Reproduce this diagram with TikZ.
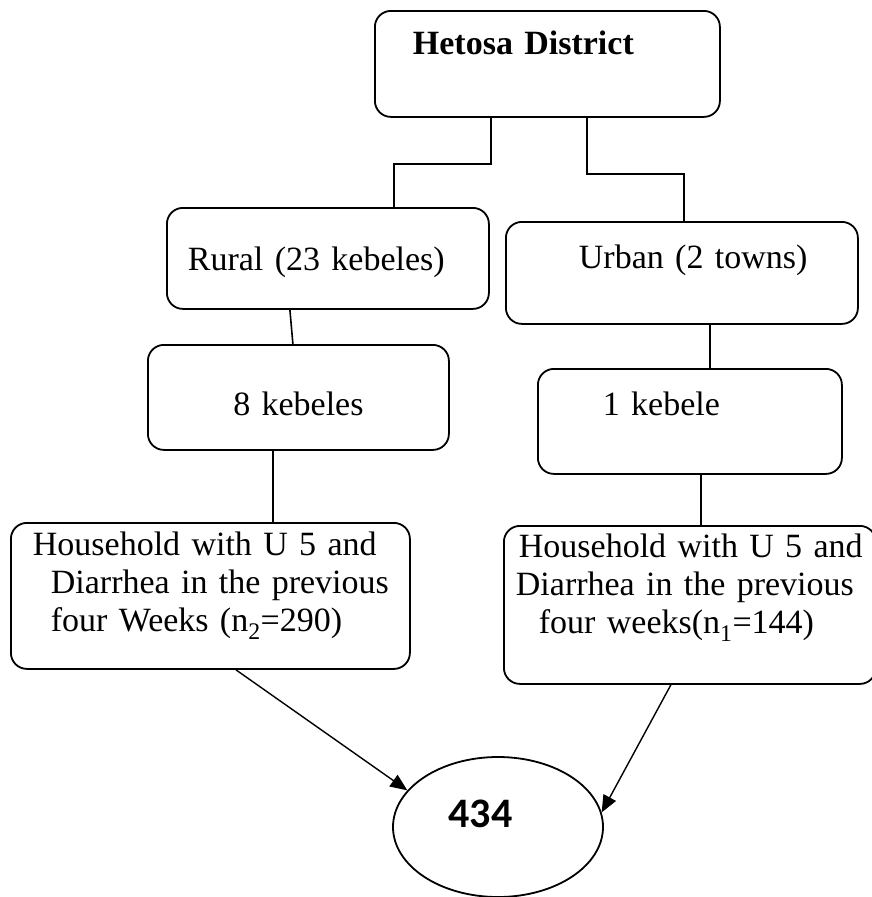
\documentclass[tikz,border=0pt]{standalone}
\usepackage{fontspec}
\setmainfont{Liberation Serif}
\newfontfamily\calibri{Carlito}
\usepackage{tikz}
\usetikzlibrary{arrows.meta,positioning,shapes.geometric}

\begin{document}
\begin{tikzpicture}[
    x=1pt, y=-1pt,
    box/.style={rectangle, draw, line width=1.8pt, rounded corners=16pt, inner sep=0pt, anchor=north west, align=left, font=\fontsize{34}{38}\selectfont},
    total/.style={ellipse, draw, line width=1.8pt, minimum width=210pt, minimum height=140pt, inner sep=0pt, font=\calibri\bfseries\fontsize{42}{44}\selectfont},
    link/.style={line width=1.6pt},
    arrow/.style={-{Triangle[length=17pt, width=14pt]}, line width=1.4pt}
]
    \useasboundingbox (0,0) rectangle (872,897);

    % District
    \node[box, text width=345pt, text height=44pt, text depth=62pt] (hetosa) at (374,10) {\hspace*{38pt}\textbf{Hetosa District}};

    % Rural and urban
    \node[box, text width=322pt, text height=63pt, text depth=38pt] (rural) at (166,207) {\hspace*{21pt}Rural (23 kebeles)};
    \node[box, text width=352pt, text height=47pt, text depth=55pt] (urban) at (505,221) {\hspace*{73pt}Urban (2 towns)};

    % Selected kebeles
    \node[box, align=center, text width=301pt, text height=71pt, text depth=34pt] (keb8) at (147,344) {8 kebeles};
    \node[box, text width=304pt, text height=47pt, text depth=58pt] (keb1) at (537,368) {\hspace*{65pt}1 kebele};

    % Households
    \node[box, text width=399pt, text height=33pt, text depth=113pt] (hh_rural) at (10,522) {\hspace*{22pt}Household with U 5 and\\\hspace*{40pt}Diarrhea in the previous\\\hspace*{40pt}four Weeks (n\textsubscript{2}=290)};
    \node[box, text width=372pt, text height=32pt, text depth=126pt] (hh_urban) at (503,525) {\hspace*{15pt}Household with U 5 and\\\hspace*{12pt}Diarrhea in the previous\\\hspace*{35pt}four weeks(n\textsubscript{1}=144)};

    % Sample size
    \node[total, text height=30pt, text depth=30pt] (total) at (498,827) {434\hspace*{35pt}};

    % Links
    \draw[link] ([xshift=-56.5pt]hetosa.south) -- ++(0,46) -| ([xshift=66pt]rural.north);
    \draw[link] ([xshift=39.5pt]hetosa.south) -- ++(0,56) -| ([xshift=2pt]urban.north);
    \draw[link] ([xshift=-38pt]rural.south) -- ([xshift=-5.5pt]keb8.north);
    \draw[link] ([xshift=-25.5pt]keb8.south) -- ([xshift=62.5pt]hh_rural.north);
    \draw[link] ([xshift=28pt]urban.south) -- ([xshift=20pt]keb1.north);
    \draw[link] ([xshift=11pt]keb1.south) -- ([xshift=11pt]hh_urban.north);

    % Arrows
    \draw[arrow] ([xshift=25.5pt]hh_rural.south) -- (total.158);
    \draw[arrow] ([xshift=-19pt]hh_urban.south) -- (total.8);

\end{tikzpicture}
\end{document}
